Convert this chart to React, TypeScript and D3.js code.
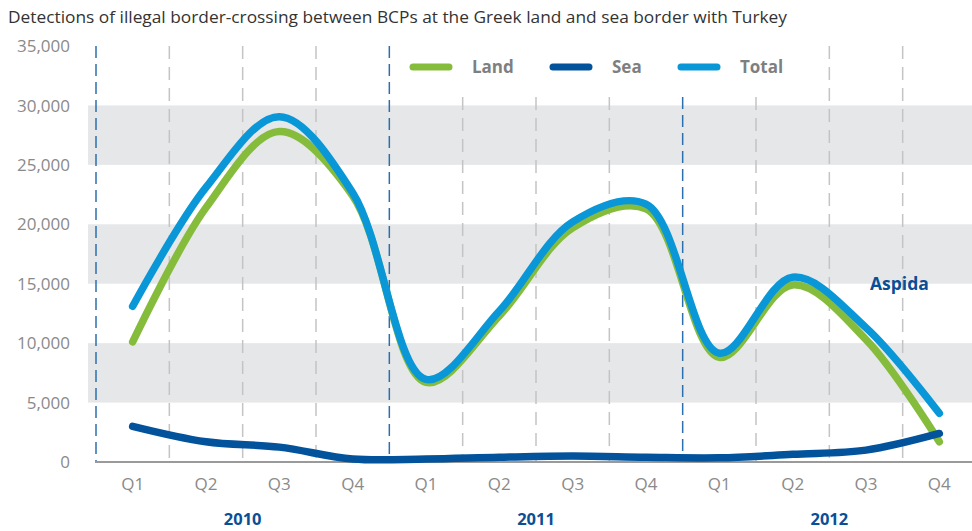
import React from "react";
import * as d3 from "d3";

const years = ["2010", "2011", "2012"];
const quarters = ["Q1", "Q2", "Q3", "Q4"];
const yTicks = [0, 5000, 10000, 15000, 20000, 25000, 30000, 35000];
const bands: [number, number][] = [
  [5000, 10000],
  [15000, 20000],
  [25000, 30000],
];

// quarterly values, 2010 Q1 .. 2012 Q4
const land = [10100, 21400, 27800, 22400, 6700, 12300, 19700, 21300, 8800, 14900, 10300, 1700];
const sea = [3000, 1700, 1250, 250, 250, 400, 500, 400, 350, 650, 1000, 2400];
const total = [13100, 23100, 29050, 22650, 6950, 12700, 20200, 21700, 9150, 15550, 11300, 4100];

const COLORS = { land: "#86bc3c", sea: "#02529c", total: "#0a97d8" };
const FONT = "'Open Sans', 'Noto Sans', sans-serif";
const LEGEND_X = [413, 553, 681];

const W = 972;
const H = 531;

const App: React.FC = () => {
  const x = d3.scaleLinear().domain([0, 12]).range([96, 976]);
  const y = d3.scaleLinear().domain([0, 35000]).range([462, 46]);

  const line = d3
    .line<number>()
    .x((_, i) => x(i + 0.5))
    .y(d => y(d))
    .curve(d3.curveCatmullRom.alpha(0.5));

  const series = [
    { key: "land", label: "Land", values: land, color: COLORS.land },
    { key: "sea", label: "Sea", values: sea, color: COLORS.sea },
    { key: "total", label: "Total", values: total, color: COLORS.total },
  ];

  const bounds = d3.range(0, 12);

  return (
    <svg width={W} height={H} style={{ position: "absolute", left: 0, top: 0, background: "#fff" }} fontFamily={FONT}>
      {/* title */}
      <text x={8} y={23} fontSize={16} fill="#333" textLength={779} lengthAdjust="spacingAndGlyphs">
        Detections of illegal border-crossing between BCPs at the Greek land and sea border with Turkey
      </text>

      {/* grey bands */}
      {bands.map(([a, b]) => (
        <rect key={a} x={88} y={y(b)} width={W - 88} height={y(a) - y(b)} fill="#e6e7e9" />
      ))}

      {/* vertical dashed separators */}
      {bounds.map(k => {
        const xx = x(k);
        const isYear = k % 4 === 0;
        const top = xx > 400 && xx < 800 ? 97 : 46;
        return (
          <line
            key={k}
            x1={xx}
            x2={xx}
            y1={top}
            y2={y(0)}
            stroke={isYear ? "#2c6fae" : "#c4c4c4"}
            strokeWidth={1.5}
            strokeDasharray={isYear ? "12,6" : "13,8"}
          />
        );
      })}

      {/* y labels */}
      {yTicks.map(t => (
        <text key={t} x={70} y={y(t)} dy="0.36em" textAnchor="end" fontSize={17} fill="#8a8a8a">
          {d3.format(",")(t)}
        </text>
      ))}

      {/* baseline */}
      <line x1={95} x2={W} y1={y(0)} y2={y(0)} stroke="#9a9a9a" strokeWidth={2} />

      {/* x labels */}
      {years.map((yr, yi) =>
        quarters.map((q, qi) => (
          <text
            key={yr + q}
            x={x(yi * 4 + qi + 0.5)}
            y={490}
            textAnchor="middle"
            fontSize={17}
            fill="#8a8a8a"
          >
            {q}
          </text>
        ))
      )}
      {years.map((yr, yi) => (
        <text key={yr} x={x(yi * 4 + 2)} y={525} textAnchor="middle" fontSize={16.5} fontWeight="bold" fill="#0a4f96">
          {yr}
        </text>
      ))}

      {/* lines */}
      {series.map(s => (
        <path
          key={s.key}
          d={line(s.values) || ""}
          fill="none"
          stroke={s.color}
          strokeWidth={7.5}
          strokeLinecap="round"
          strokeLinejoin="round"
        />
      ))}

      {/* annotation */}
      <text x={870} y={290} fontSize={17.5} fontWeight="bold" fill="#0a4f96">
        Aspida
      </text>

      {/* legend */}
      {series.map((s, i) => {
        const lx = LEGEND_X[i];
        return (
          <g key={s.key}>
            <line x1={lx} x2={lx + 36} y1={67} y2={67} stroke={s.color} strokeWidth={7} strokeLinecap="round" />
            <text x={lx + 59} y={73} fontSize={17} fontWeight="bold" fill="#7f7f7f">
              {s.label}
            </text>
          </g>
        );
      })}
    </svg>
  );
};

export default App;
